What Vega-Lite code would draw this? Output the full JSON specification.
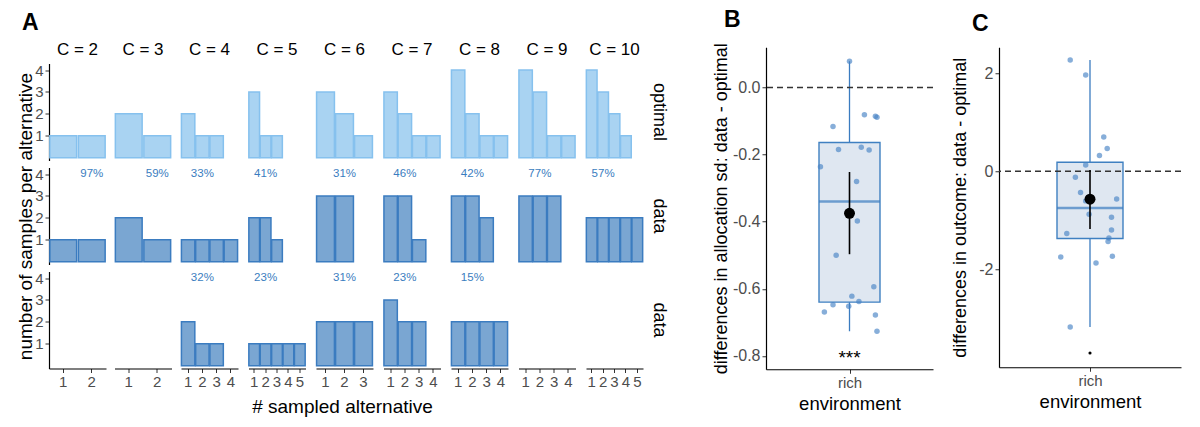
{
  "$schema": "https://vega.github.io/schema/vega-lite/v6.json",
  "background": "white",
  "padding": {"left": 16, "top": 8, "right": 0, "bottom": 0},
  "center": true,
  "config": {
    "font": "Liberation Sans",
    "view": {"stroke": null},
    "axis": {"grid": false, "domainColor": "#000", "domainWidth": 1.2, "tickColor": "#333", "tickSize": 4, "labelColor": "#4d4d4d", "labelFontSize": 15, "titleFontSize": 19, "titleFontWeight": "normal", "titleColor": "#000", "labelOverlap": false},
    "title": {"fontSize": 23, "fontWeight": "bold", "color": "#000", "anchor": "start", "frame": "bounds"},
    "header": {"labelFontSize": 17, "labelColor": "#000"}
  },
  "datasets": {
    "hist": [
      {"C":2,"r":1,"k":1,"n":1,"t":"optimal"},{"C":2,"r":1,"k":2,"n":1,"t":"optimal"},
      {"C":2,"r":2,"k":1,"n":1,"t":"data"},{"C":2,"r":2,"k":2,"n":1,"t":"data"},{"C":2,"r":2,"pct":"97%"},{"C":2,"r":3},
      {"C":3,"r":1,"k":1,"n":2,"t":"optimal"},{"C":3,"r":1,"k":2,"n":1,"t":"optimal"},
      {"C":3,"r":2,"k":1,"n":2,"t":"data"},{"C":3,"r":2,"k":2,"n":1,"t":"data"},{"C":3,"r":2,"pct":"59%"},{"C":3,"r":3},
      {"C":4,"r":1,"k":1,"n":2,"t":"optimal"},{"C":4,"r":1,"k":2,"n":1,"t":"optimal"},{"C":4,"r":1,"k":3,"n":1,"t":"optimal"},
      {"C":4,"r":2,"k":1,"n":1,"t":"data"},{"C":4,"r":2,"k":2,"n":1,"t":"data"},{"C":4,"r":2,"k":3,"n":1,"t":"data"},{"C":4,"r":2,"k":4,"n":1,"t":"data"},{"C":4,"r":2,"pct":"33%"},
      {"C":4,"r":3,"k":1,"n":2,"t":"data"},{"C":4,"r":3,"k":2,"n":1,"t":"data"},{"C":4,"r":3,"k":3,"n":1,"t":"data"},{"C":4,"r":3,"pct":"32%"},
      {"C":5,"r":1,"k":1,"n":3,"t":"optimal"},{"C":5,"r":1,"k":2,"n":1,"t":"optimal"},{"C":5,"r":1,"k":3,"n":1,"t":"optimal"},
      {"C":5,"r":2,"k":1,"n":2,"t":"data"},{"C":5,"r":2,"k":2,"n":2,"t":"data"},{"C":5,"r":2,"k":3,"n":1,"t":"data"},{"C":5,"r":2,"pct":"41%"},
      {"C":5,"r":3,"k":1,"n":1,"t":"data"},{"C":5,"r":3,"k":2,"n":1,"t":"data"},{"C":5,"r":3,"k":3,"n":1,"t":"data"},{"C":5,"r":3,"k":4,"n":1,"t":"data"},{"C":5,"r":3,"k":5,"n":1,"t":"data"},{"C":5,"r":3,"pct":"23%"},
      {"C":6,"r":1,"k":1,"n":3,"t":"optimal"},{"C":6,"r":1,"k":2,"n":2,"t":"optimal"},{"C":6,"r":1,"k":3,"n":1,"t":"optimal"},
      {"C":6,"r":2,"k":1,"n":3,"t":"data"},{"C":6,"r":2,"k":2,"n":3,"t":"data"},{"C":6,"r":2,"pct":"31%"},
      {"C":6,"r":3,"k":1,"n":2,"t":"data"},{"C":6,"r":3,"k":2,"n":2,"t":"data"},{"C":6,"r":3,"k":3,"n":2,"t":"data"},{"C":6,"r":3,"pct":"31%"},
      {"C":7,"r":1,"k":1,"n":3,"t":"optimal"},{"C":7,"r":1,"k":2,"n":2,"t":"optimal"},{"C":7,"r":1,"k":3,"n":1,"t":"optimal"},{"C":7,"r":1,"k":4,"n":1,"t":"optimal"},
      {"C":7,"r":2,"k":1,"n":3,"t":"data"},{"C":7,"r":2,"k":2,"n":3,"t":"data"},{"C":7,"r":2,"k":3,"n":1,"t":"data"},{"C":7,"r":2,"pct":"46%"},
      {"C":7,"r":3,"k":1,"n":3,"t":"data"},{"C":7,"r":3,"k":2,"n":2,"t":"data"},{"C":7,"r":3,"k":3,"n":2,"t":"data"},{"C":7,"r":3,"pct":"23%"},
      {"C":8,"r":1,"k":1,"n":4,"t":"optimal"},{"C":8,"r":1,"k":2,"n":2,"t":"optimal"},{"C":8,"r":1,"k":3,"n":1,"t":"optimal"},{"C":8,"r":1,"k":4,"n":1,"t":"optimal"},
      {"C":8,"r":2,"k":1,"n":3,"t":"data"},{"C":8,"r":2,"k":2,"n":3,"t":"data"},{"C":8,"r":2,"k":3,"n":2,"t":"data"},{"C":8,"r":2,"pct":"42%"},
      {"C":8,"r":3,"k":1,"n":2,"t":"data"},{"C":8,"r":3,"k":2,"n":2,"t":"data"},{"C":8,"r":3,"k":3,"n":2,"t":"data"},{"C":8,"r":3,"k":4,"n":2,"t":"data"},{"C":8,"r":3,"pct":"15%"},
      {"C":9,"r":1,"k":1,"n":4,"t":"optimal"},{"C":9,"r":1,"k":2,"n":3,"t":"optimal"},{"C":9,"r":1,"k":3,"n":1,"t":"optimal"},{"C":9,"r":1,"k":4,"n":1,"t":"optimal"},
      {"C":9,"r":2,"k":1,"n":3,"t":"data"},{"C":9,"r":2,"k":2,"n":3,"t":"data"},{"C":9,"r":2,"k":3,"n":3,"t":"data"},{"C":9,"r":2,"pct":"77%"},{"C":9,"r":3},
      {"C":10,"r":1,"k":1,"n":4,"t":"optimal"},{"C":10,"r":1,"k":2,"n":3,"t":"optimal"},{"C":10,"r":1,"k":3,"n":2,"t":"optimal"},{"C":10,"r":1,"k":4,"n":1,"t":"optimal"},
      {"C":10,"r":2,"k":1,"n":2,"t":"data"},{"C":10,"r":2,"k":2,"n":2,"t":"data"},{"C":10,"r":2,"k":3,"n":2,"t":"data"},{"C":10,"r":2,"k":4,"n":2,"t":"data"},{"C":10,"r":2,"k":5,"n":2,"t":"data"},{"C":10,"r":2,"pct":"57%"},{"C":10,"r":3}
    ],
    "ptsB": [
      {"jx":0.0,"v":0.078},{"jx":0.19,"v":-0.081},{"jx":0.33,"v":-0.086},{"jx":0.35,"v":-0.089},{"jx":-0.21,"v":-0.116},
      {"jx":-0.14,"v":-0.185},{"jx":0.15,"v":-0.178},{"jx":0.25,"v":-0.186},{"jx":-0.37,"v":-0.236},{"jx":0.09,"v":-0.28},
      {"jx":0.10,"v":-0.398},{"jx":-0.17,"v":-0.5},{"jx":0.31,"v":-0.594},{"jx":0.03,"v":-0.622},{"jx":0.12,"v":-0.638},
      {"jx":-0.21,"v":-0.648},{"jx":-0.01,"v":-0.652},{"jx":-0.32,"v":-0.669},{"jx":0.33,"v":-0.678},{"jx":0.35,"v":-0.727}
    ],
    "boxB": [{"q1":-0.64,"q3":-0.164,"median":-0.34,"lower":-0.727,"upper":0.078,"mean":-0.375,"lo":-0.497,"hi":-0.252,"sig":"***"}],
    "ptsC": [
      {"jx":-0.23,"v":2.27},{"jx":-0.05,"v":1.965},{"jx":0.16,"v":0.70},{"jx":0.20,"v":0.463},{"jx":0.11,"v":0.32},
      {"jx":-0.05,"v":0.129},{"jx":-0.17,"v":-0.122},{"jx":-0.11,"v":-0.435},{"jx":-0.05,"v":-0.605},{"jx":0.31,"v":-0.565},
      {"jx":-0.01,"v":-0.878},{"jx":0.25,"v":-0.939},{"jx":0.25,"v":-1.197},{"jx":-0.27,"v":-1.272},{"jx":0.22,"v":-1.361},
      {"jx":0.21,"v":-1.435},{"jx":-0.34,"v":-1.748},{"jx":0.26,"v":-1.735},{"jx":0.07,"v":-1.871},{"jx":-0.23,"v":-3.177}
    ],
    "boxC": [{"q1":-1.374,"q3":0.184,"median":-0.748,"lower":-3.18,"upper":2.27,"outlier":-3.71,"mean":-0.571,"lo":-1.18,"hi":0.027}]
  },
  "spacing": 44,
  "hconcat": [
    {
      "title": {"text": "A", "offset": 6, "dx": 5},
      "hconcat": [
        {
          "title": {"text": "# sampled alternative", "orient": "bottom", "anchor": "middle", "fontSize": 19, "fontWeight": "normal", "offset": 8, "dx": 0},
          "spacing": 8.5,
          "hconcat": [
            {
              "data": {"name": "hist"}, "transform": [{"filter": "datum.C == 2"}],
              "facet": {
                "row": {"field": "r", "type": "ordinal", "title": "number of samples per alternative", "header": {"labels": false, "titleFontSize": 19, "titleFontWeight": "normal", "titleColor": "#000", "titlePadding": -12}},
                "column": {"field": "C", "type": "ordinal", "title": null, "header": {"labelExpr": "'C = ' + datum.value", "labelPadding": 5}}
              },
              "spacing": {"row": 7},
              "spec": {"width": 57, "height": 97, "layer": [
                {"transform": [{"filter": "isValid(datum.n)"}], "mark": {"type": "bar", "strokeWidth": 1.5},
                 "encoding": {
                   "x": {"field": "k", "type": "ordinal", "scale": {"domain": [1,2], "paddingInner": 0.06, "paddingOuter": 0.03}, "axis": {"title": null, "labelAngle": 0, "labelOverlap": false}},
                   "y": {"field": "n", "type": "quantitative", "scale": {"domain": [-0.13, 4.3], "nice": false, "zero": false}, "axis": {"values": [1,2,3,4], "title": null, "labelPadding": 2, "labelOverlap": false}},
                   "fill": {"field": "t", "type": "nominal", "scale": {"domain": ["optimal","data"], "range": ["#a9d3f2","#7aa6d2"]}, "legend": null},
                   "stroke": {"field": "t", "type": "nominal", "scale": {"domain": ["optimal","data"], "range": ["#86c1ee","#3b7cc0"]}, "legend": null}}},
                {"transform": [{"filter": "isValid(datum.pct)"}], "mark": {"type": "text", "fontSize": 11.5, "color": "#3a7dc0"},
                 "encoding": {"x": {"datum": 2, "type": "ordinal"}, "y": {"datum": 4, "type": "quantitative", "axis": {"values": [1,2,3,4], "title": null, "labelPadding": 2, "labelOverlap": false}}, "text": {"field": "pct"}}}
              ]}
            },
            {
              "data": {"name": "hist"}, "transform": [{"filter": "datum.C == 3"}],
              "facet": {
                "row": {"field": "r", "type": "ordinal", "title": null, "header": {"labels": false}},
                "column": {"field": "C", "type": "ordinal", "title": null, "header": {"labelExpr": "'C = ' + datum.value", "labelPadding": 5}}
              },
              "spacing": {"row": 7},
              "spec": {"width": 57, "height": 97, "layer": [
                {"transform": [{"filter": "isValid(datum.n)"}], "mark": {"type": "bar", "strokeWidth": 1.5},
                 "encoding": {
                   "x": {"field": "k", "type": "ordinal", "scale": {"domain": [1,2], "paddingInner": 0.06, "paddingOuter": 0.03}, "axis": {"title": null, "labelAngle": 0, "labelOverlap": false}},
                   "y": {"field": "n", "type": "quantitative", "scale": {"domain": [-0.13, 4.3], "nice": false, "zero": false}, "axis": null},
                   "fill": {"field": "t", "type": "nominal", "scale": {"domain": ["optimal","data"], "range": ["#a9d3f2","#7aa6d2"]}, "legend": null},
                   "stroke": {"field": "t", "type": "nominal", "scale": {"domain": ["optimal","data"], "range": ["#86c1ee","#3b7cc0"]}, "legend": null}}},
                {"transform": [{"filter": "isValid(datum.pct)"}], "mark": {"type": "text", "fontSize": 11.5, "color": "#3a7dc0"},
                 "encoding": {"x": {"datum": 2, "type": "ordinal"}, "y": {"datum": 4, "type": "quantitative", "axis": null}, "text": {"field": "pct"}}}
              ]}
            },
            {
              "data": {"name": "hist"}, "transform": [{"filter": "datum.C == 4"}],
              "facet": {
                "row": {"field": "r", "type": "ordinal", "title": null, "header": {"labels": false}},
                "column": {"field": "C", "type": "ordinal", "title": null, "header": {"labelExpr": "'C = ' + datum.value", "labelPadding": 5}}
              },
              "spacing": {"row": 7},
              "spec": {"width": 57, "height": 97, "layer": [
                {"transform": [{"filter": "isValid(datum.n)"}], "mark": {"type": "bar", "strokeWidth": 1.5},
                 "encoding": {
                   "x": {"field": "k", "type": "ordinal", "scale": {"domain": [1,2,3,4], "paddingInner": 0.06, "paddingOuter": 0.03}, "axis": {"title": null, "labelAngle": 0, "labelOverlap": false}},
                   "y": {"field": "n", "type": "quantitative", "scale": {"domain": [-0.13, 4.3], "nice": false, "zero": false}, "axis": null},
                   "fill": {"field": "t", "type": "nominal", "scale": {"domain": ["optimal","data"], "range": ["#a9d3f2","#7aa6d2"]}, "legend": null},
                   "stroke": {"field": "t", "type": "nominal", "scale": {"domain": ["optimal","data"], "range": ["#86c1ee","#3b7cc0"]}, "legend": null}}},
                {"transform": [{"filter": "isValid(datum.pct)"}], "mark": {"type": "text", "fontSize": 11.5, "color": "#3a7dc0"},
                 "encoding": {"x": {"datum": 2, "type": "ordinal"}, "y": {"datum": 4, "type": "quantitative", "axis": null}, "text": {"field": "pct"}}}
              ]}
            },
            {
              "data": {"name": "hist"}, "transform": [{"filter": "datum.C == 5"}],
              "facet": {
                "row": {"field": "r", "type": "ordinal", "title": null, "header": {"labels": false}},
                "column": {"field": "C", "type": "ordinal", "title": null, "header": {"labelExpr": "'C = ' + datum.value", "labelPadding": 5}}
              },
              "spacing": {"row": 7},
              "spec": {"width": 57, "height": 97, "layer": [
                {"transform": [{"filter": "isValid(datum.n)"}], "mark": {"type": "bar", "strokeWidth": 1.5},
                 "encoding": {
                   "x": {"field": "k", "type": "ordinal", "scale": {"domain": [1,2,3,4,5], "paddingInner": 0.06, "paddingOuter": 0.03}, "axis": {"title": null, "labelAngle": 0, "labelOverlap": false}},
                   "y": {"field": "n", "type": "quantitative", "scale": {"domain": [-0.13, 4.3], "nice": false, "zero": false}, "axis": null},
                   "fill": {"field": "t", "type": "nominal", "scale": {"domain": ["optimal","data"], "range": ["#a9d3f2","#7aa6d2"]}, "legend": null},
                   "stroke": {"field": "t", "type": "nominal", "scale": {"domain": ["optimal","data"], "range": ["#86c1ee","#3b7cc0"]}, "legend": null}}},
                {"transform": [{"filter": "isValid(datum.pct)"}], "mark": {"type": "text", "fontSize": 11.5, "color": "#3a7dc0"},
                 "encoding": {"x": {"datum": 2, "type": "ordinal"}, "y": {"datum": 4, "type": "quantitative", "axis": null}, "text": {"field": "pct"}}}
              ]}
            },
            {
              "data": {"name": "hist"}, "transform": [{"filter": "datum.C == 6"}],
              "facet": {
                "row": {"field": "r", "type": "ordinal", "title": null, "header": {"labels": false}},
                "column": {"field": "C", "type": "ordinal", "title": null, "header": {"labelExpr": "'C = ' + datum.value", "labelPadding": 5}}
              },
              "spacing": {"row": 7},
              "spec": {"width": 57, "height": 97, "layer": [
                {"transform": [{"filter": "isValid(datum.n)"}], "mark": {"type": "bar", "strokeWidth": 1.5},
                 "encoding": {
                   "x": {"field": "k", "type": "ordinal", "scale": {"domain": [1,2,3], "paddingInner": 0.06, "paddingOuter": 0.03}, "axis": {"title": null, "labelAngle": 0, "labelOverlap": false}},
                   "y": {"field": "n", "type": "quantitative", "scale": {"domain": [-0.13, 4.3], "nice": false, "zero": false}, "axis": null},
                   "fill": {"field": "t", "type": "nominal", "scale": {"domain": ["optimal","data"], "range": ["#a9d3f2","#7aa6d2"]}, "legend": null},
                   "stroke": {"field": "t", "type": "nominal", "scale": {"domain": ["optimal","data"], "range": ["#86c1ee","#3b7cc0"]}, "legend": null}}},
                {"transform": [{"filter": "isValid(datum.pct)"}], "mark": {"type": "text", "fontSize": 11.5, "color": "#3a7dc0"},
                 "encoding": {"x": {"datum": 2, "type": "ordinal"}, "y": {"datum": 4, "type": "quantitative", "axis": null}, "text": {"field": "pct"}}}
              ]}
            },
            {
              "data": {"name": "hist"}, "transform": [{"filter": "datum.C == 7"}],
              "facet": {
                "row": {"field": "r", "type": "ordinal", "title": null, "header": {"labels": false}},
                "column": {"field": "C", "type": "ordinal", "title": null, "header": {"labelExpr": "'C = ' + datum.value", "labelPadding": 5}}
              },
              "spacing": {"row": 7},
              "spec": {"width": 57, "height": 97, "layer": [
                {"transform": [{"filter": "isValid(datum.n)"}], "mark": {"type": "bar", "strokeWidth": 1.5},
                 "encoding": {
                   "x": {"field": "k", "type": "ordinal", "scale": {"domain": [1,2,3,4], "paddingInner": 0.06, "paddingOuter": 0.03}, "axis": {"title": null, "labelAngle": 0, "labelOverlap": false}},
                   "y": {"field": "n", "type": "quantitative", "scale": {"domain": [-0.13, 4.3], "nice": false, "zero": false}, "axis": null},
                   "fill": {"field": "t", "type": "nominal", "scale": {"domain": ["optimal","data"], "range": ["#a9d3f2","#7aa6d2"]}, "legend": null},
                   "stroke": {"field": "t", "type": "nominal", "scale": {"domain": ["optimal","data"], "range": ["#86c1ee","#3b7cc0"]}, "legend": null}}},
                {"transform": [{"filter": "isValid(datum.pct)"}], "mark": {"type": "text", "fontSize": 11.5, "color": "#3a7dc0"},
                 "encoding": {"x": {"datum": 2, "type": "ordinal"}, "y": {"datum": 4, "type": "quantitative", "axis": null}, "text": {"field": "pct"}}}
              ]}
            },
            {
              "data": {"name": "hist"}, "transform": [{"filter": "datum.C == 8"}],
              "facet": {
                "row": {"field": "r", "type": "ordinal", "title": null, "header": {"labels": false}},
                "column": {"field": "C", "type": "ordinal", "title": null, "header": {"labelExpr": "'C = ' + datum.value", "labelPadding": 5}}
              },
              "spacing": {"row": 7},
              "spec": {"width": 57, "height": 97, "layer": [
                {"transform": [{"filter": "isValid(datum.n)"}], "mark": {"type": "bar", "strokeWidth": 1.5},
                 "encoding": {
                   "x": {"field": "k", "type": "ordinal", "scale": {"domain": [1,2,3,4], "paddingInner": 0.06, "paddingOuter": 0.03}, "axis": {"title": null, "labelAngle": 0, "labelOverlap": false}},
                   "y": {"field": "n", "type": "quantitative", "scale": {"domain": [-0.13, 4.3], "nice": false, "zero": false}, "axis": null},
                   "fill": {"field": "t", "type": "nominal", "scale": {"domain": ["optimal","data"], "range": ["#a9d3f2","#7aa6d2"]}, "legend": null},
                   "stroke": {"field": "t", "type": "nominal", "scale": {"domain": ["optimal","data"], "range": ["#86c1ee","#3b7cc0"]}, "legend": null}}},
                {"transform": [{"filter": "isValid(datum.pct)"}], "mark": {"type": "text", "fontSize": 11.5, "color": "#3a7dc0"},
                 "encoding": {"x": {"datum": 2, "type": "ordinal"}, "y": {"datum": 4, "type": "quantitative", "axis": null}, "text": {"field": "pct"}}}
              ]}
            },
            {
              "data": {"name": "hist"}, "transform": [{"filter": "datum.C == 9"}],
              "facet": {
                "row": {"field": "r", "type": "ordinal", "title": null, "header": {"labels": false}},
                "column": {"field": "C", "type": "ordinal", "title": null, "header": {"labelExpr": "'C = ' + datum.value", "labelPadding": 5}}
              },
              "spacing": {"row": 7},
              "spec": {"width": 57, "height": 97, "layer": [
                {"transform": [{"filter": "isValid(datum.n)"}], "mark": {"type": "bar", "strokeWidth": 1.5},
                 "encoding": {
                   "x": {"field": "k", "type": "ordinal", "scale": {"domain": [1,2,3,4], "paddingInner": 0.06, "paddingOuter": 0.03}, "axis": {"title": null, "labelAngle": 0, "labelOverlap": false}},
                   "y": {"field": "n", "type": "quantitative", "scale": {"domain": [-0.13, 4.3], "nice": false, "zero": false}, "axis": null},
                   "fill": {"field": "t", "type": "nominal", "scale": {"domain": ["optimal","data"], "range": ["#a9d3f2","#7aa6d2"]}, "legend": null},
                   "stroke": {"field": "t", "type": "nominal", "scale": {"domain": ["optimal","data"], "range": ["#86c1ee","#3b7cc0"]}, "legend": null}}},
                {"transform": [{"filter": "isValid(datum.pct)"}], "mark": {"type": "text", "fontSize": 11.5, "color": "#3a7dc0"},
                 "encoding": {"x": {"datum": 2, "type": "ordinal"}, "y": {"datum": 4, "type": "quantitative", "axis": null}, "text": {"field": "pct"}}}
              ]}
            },
            {
              "data": {"name": "hist"}, "transform": [{"filter": "datum.C == 10"}],
              "facet": {
                "row": {"field": "r", "type": "ordinal", "title": null, "header": {"labelOrient": "right", "labelAngle": 90, "labelExpr": "datum.value == 1 ? 'optimal' : 'data'", "labelPadding": 6, "labelFontSize": 18}},
                "column": {"field": "C", "type": "ordinal", "title": null, "header": {"labelExpr": "'C = ' + datum.value", "labelPadding": 5}}
              },
              "spacing": {"row": 7},
              "spec": {"width": 57, "height": 97, "layer": [
                {"transform": [{"filter": "isValid(datum.n)"}], "mark": {"type": "bar", "strokeWidth": 1.5},
                 "encoding": {
                   "x": {"field": "k", "type": "ordinal", "scale": {"domain": [1,2,3,4,5], "paddingInner": 0.06, "paddingOuter": 0.03}, "axis": {"title": null, "labelAngle": 0, "labelOverlap": false}},
                   "y": {"field": "n", "type": "quantitative", "scale": {"domain": [-0.13, 4.3], "nice": false, "zero": false}, "axis": null},
                   "fill": {"field": "t", "type": "nominal", "scale": {"domain": ["optimal","data"], "range": ["#a9d3f2","#7aa6d2"]}, "legend": null},
                   "stroke": {"field": "t", "type": "nominal", "scale": {"domain": ["optimal","data"], "range": ["#86c1ee","#3b7cc0"]}, "legend": null}}},
                {"transform": [{"filter": "isValid(datum.pct)"}], "mark": {"type": "text", "fontSize": 11.5, "color": "#3a7dc0"},
                 "encoding": {"x": {"datum": 2, "type": "ordinal"}, "y": {"datum": 4, "type": "quantitative", "axis": null}, "text": {"field": "pct"}}}
              ]}
            }
          ]
        }
      ]
    },
    {
      "spacing": 17,
      "hconcat": [
        {
          "title": {"text": "B", "offset": 11, "dx": 12},
          "width": 167, "height": 322,
          "layer": [
            {"data": {"name": "boxB"}, "mark": {"type": "rule", "color": "#3b7cc0", "strokeWidth": 1.3},
             "encoding": {
               "x": {"datum": 0, "type": "quantitative", "scale": {"domain": [-1, 1], "nice": false, "zero": false}, "axis": {"values": [0], "labelExpr": "'rich'", "title": ["environment", " "], "titleLineHeight": 20, "titleFontSize": 18.5, "titlePadding": 4, "labelFontSize": 15}},
               "y": {"field": "lower", "type": "quantitative", "scale": {"domain": [-0.84, 0.12], "nice": false, "zero": false}, "axis": {"values": [-0.8, -0.6, -0.4, -0.2, 0], "labelExpr": "replace(format(datum.value, '.1f'), '−', '-')", "title": "differences in allocation sd: data - optimal", "titleFontSize": 18, "titleX": -36, "labelFontSize": 16}},
               "y2": {"field": "upper"}}},
            {"data": {"name": "boxB"}, "mark": {"type": "bar", "width": 61, "fill": "#dfe7f1", "stroke": "#3f80c1", "strokeWidth": 1.4},
             "encoding": {"x": {"datum": 0, "type": "quantitative"}, "y": {"field": "q1", "type": "quantitative"}, "y2": {"field": "q3"}}},
            {"data": {"name": "boxB"}, "mark": {"type": "tick", "orient": "horizontal", "size": 61, "thickness": 2.5, "color": "#3b7cc0"},
             "encoding": {"x": {"datum": 0, "type": "quantitative"}, "y": {"field": "median", "type": "quantitative"}}},
            {"data": {"name": "boxB"}, "mark": {"type": "rule", "strokeDash": [6, 4], "color": "#333", "strokeWidth": 1.3},
             "encoding": {"y": {"datum": 0, "type": "quantitative"}}},
            {"data": {"name": "ptsB"}, "mark": {"type": "circle", "size": 30, "color": "#4682c4", "opacity": 0.65},
             "encoding": {"x": {"field": "jx", "type": "quantitative"}, "y": {"field": "v", "type": "quantitative"}}},
            {"data": {"name": "boxB"}, "mark": {"type": "rule", "color": "#000", "strokeWidth": 1.6},
             "encoding": {"x": {"datum": 0, "type": "quantitative"}, "y": {"field": "lo", "type": "quantitative"}, "y2": {"field": "hi"}}},
            {"data": {"name": "boxB"}, "mark": {"type": "circle", "size": 120, "color": "#000", "opacity": 1},
             "encoding": {"x": {"datum": 0, "type": "quantitative"}, "y": {"field": "mean", "type": "quantitative"}}},
            {"data": {"name": "boxB"}, "mark": {"type": "text", "fontSize": 19, "color": "#000", "baseline": "middle"},
             "encoding": {"x": {"datum": 0, "type": "quantitative"}, "y": {"datum": -0.805, "type": "quantitative"}, "text": {"field": "sig"}}}
          ]
        },
        {
          "title": {"text": "C", "offset": 11, "dx": 21},
          "width": 182, "height": 320,
          "layer": [
            {"data": {"name": "boxC"}, "mark": {"type": "rule", "color": "#3b7cc0", "strokeWidth": 1.3},
             "encoding": {
               "x": {"datum": 0, "type": "quantitative", "scale": {"domain": [-1, 1], "nice": false, "zero": false}, "axis": {"values": [0], "labelExpr": "'rich'", "title": ["environment", " "], "titleLineHeight": 20, "titleFontSize": 18.5, "titlePadding": 4, "labelFontSize": 15}},
               "y": {"field": "lower", "type": "quantitative", "scale": {"domain": [-4.0, 2.53], "nice": false, "zero": false}, "axis": {"values": [-2, 0, 2], "labelExpr": "replace(format(datum.value, 'd'), '−', '-')", "title": "differences in outcome: data - optimal", "titleFontSize": 18, "titleX": -30, "labelFontSize": 16}},
               "y2": {"field": "upper"}}},
            {"data": {"name": "boxC"}, "mark": {"type": "bar", "width": 66, "fill": "#dfe7f1", "stroke": "#3f80c1", "strokeWidth": 1.4},
             "encoding": {"x": {"datum": 0, "type": "quantitative"}, "y": {"field": "q1", "type": "quantitative"}, "y2": {"field": "q3"}}},
            {"data": {"name": "boxC"}, "mark": {"type": "tick", "orient": "horizontal", "size": 66, "thickness": 2.5, "color": "#3b7cc0"},
             "encoding": {"x": {"datum": 0, "type": "quantitative"}, "y": {"field": "median", "type": "quantitative"}}},
            {"data": {"name": "boxC"}, "mark": {"type": "circle", "size": 10, "color": "#000", "opacity": 1},
             "encoding": {"x": {"datum": 0, "type": "quantitative"}, "y": {"field": "outlier", "type": "quantitative"}}},
            {"data": {"name": "boxC"}, "mark": {"type": "rule", "strokeDash": [6, 4], "color": "#333", "strokeWidth": 1.3},
             "encoding": {"y": {"datum": 0, "type": "quantitative"}}},
            {"data": {"name": "ptsC"}, "mark": {"type": "circle", "size": 30, "color": "#4682c4", "opacity": 0.65},
             "encoding": {"x": {"field": "jx", "type": "quantitative"}, "y": {"field": "v", "type": "quantitative"}}},
            {"data": {"name": "boxC"}, "mark": {"type": "rule", "color": "#000", "strokeWidth": 1.6},
             "encoding": {"x": {"datum": 0, "type": "quantitative"}, "y": {"field": "lo", "type": "quantitative"}, "y2": {"field": "hi"}}},
            {"data": {"name": "boxC"}, "mark": {"type": "circle", "size": 120, "color": "#000", "opacity": 1},
             "encoding": {"x": {"datum": 0, "type": "quantitative"}, "y": {"field": "mean", "type": "quantitative"}}}
          ]
        }
      ]
    }
  ]
}
